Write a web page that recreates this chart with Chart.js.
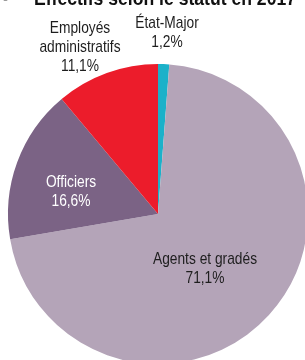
<!DOCTYPE html>
<html>
<head>
<meta charset="utf-8">
<script src="https://cdn.jsdelivr.net/npm/chart.js@4/dist/chart.umd.min.js"></script>
<style>
  html, body { margin: 0; padding: 0; background: #fff; overflow: hidden; }
  #wrap { position: absolute; left: 0; top: 0; width: 316px; height: 380px; }
</style>
</head>
<body>
<div id="wrap"><canvas id="myChart"></canvas></div>
<script>
// statuts, in drawing order (clockwise from 12 o'clock)
const labels = ['État-Major', 'Agents et gradés', 'Officiers', 'Employés administratifs'];
const shares = [1.2, 71.1, 16.6, 11.1];
const colors = ['#1bb1c9', '#b4a4b8', '#7b6385', '#ec1c2b'];
const labelLines = [['État-Major'], ['Agents et gradés'], ['Officiers'], ['Employés', 'administratifs']];
const labelColors = ['#1e1e1e', '#1e1e1e', '#ffffff', '#1e1e1e'];
// where each label block starts (first baseline)
const labelSpots = [[167, 28], [205, 264], [71, 187], [80, 33]];
const title = 'Effectifs selon le statut en 2017';

const FONT = '"Liberation Sans", Arial, sans-serif';
const SQUEEZE = 0.81; // condensed look

function squeezed(ctx, text, x, y, sx) {
    ctx.save();
    ctx.translate(x, y);
    ctx.scale(sx, 1);
    ctx.fillText(text, 0, 0);
    ctx.restore();
}

const textPlugin = {
    id: 'sliceText',
    afterDraw(chart) {
        const ctx = chart.ctx;
        ctx.save();
        // title, cut at the top of the picture
        ctx.font = 'bold 20px ' + FONT;
        ctx.fillStyle = '#111';
        ctx.textAlign = 'left';
        ctx.textBaseline = 'alphabetic';
        const tw = ctx.measureText(title).width;
        squeezed(ctx, title, 34, 5, 262 / tw);
        ctx.fillStyle = '#999';
        ctx.fillText('•', 2, 5);

        ctx.font = '17px ' + FONT;
        ctx.textAlign = 'center';
        shares.forEach((v, i) => {
            const lines = labelLines[i].concat([v.toFixed(1).replace('.', ',') + '%']);
            const [x, y] = labelSpots[i];
            ctx.fillStyle = labelColors[i];
            lines.forEach((t, j) => squeezed(ctx, t, x, y + j * 19, SQUEEZE));
        });
        ctx.restore();
    }
};

const ctx = document.getElementById('myChart').getContext('2d');
const chart = new Chart(ctx, {
    type: 'pie',
    data: {
        labels: labels,
        datasets: [{
            data: shares,
            backgroundColor: colors,
            borderWidth: 0
        }]
    },
    options: {
        responsive: true,
        maintainAspectRatio: false,
        animation: false,
        layout: { padding: { top: 64, left: 8, right: 8, bottom: 16 } },
        plugins: {
            legend: { display: false },
            tooltip: { enabled: false }
        }
    },
    plugins: [textPlugin]
});
</script>
</body>
</html>
